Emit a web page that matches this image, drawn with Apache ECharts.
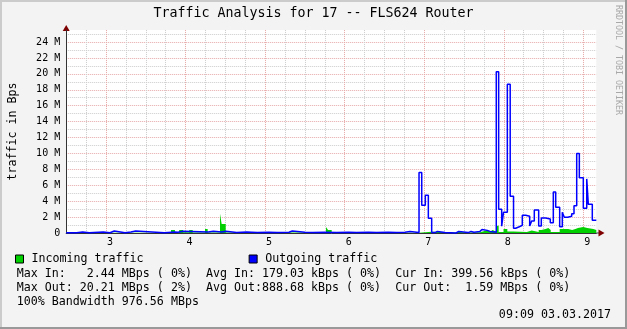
<!DOCTYPE html>
<html><head><meta charset="utf-8">
<script src="https://cdn.jsdelivr.net/npm/echarts@6/dist/echarts.min.js"></script>
<style>html,body{margin:0;padding:0;background:#f3f3f3}#c{width:627px;height:329px}</style>
</head><body><div id="c"></div>
<script>
// time in hours (start of each step), values in M
const outTimes=[2.50,2.63,2.707,2.79,2.966,3.05,3.104,3.239,3.314,3.373,3.733,3.867,3.905,3.968,4.286,4.349,4.454,4.505,4.643,4.769,4.90,5.05,5.15,5.30,5.342,5.50,5.60,5.75,5.90,6.05,6.15,6.30,6.40,6.55,6.65,6.759,6.822,6.935,6.969,7.014,7.052,7.094,7.136,7.165,7.262,7.40,7.434,7.554,7.588,7.626,7.701,7.727,7.793,7.827,7.906,7.936,7.974,7.997,8.045,8.081,8.123,8.150,8.195,8.233,8.276,8.326,8.351,8.384,8.439,8.472,8.527,8.585,8.623,8.653,8.703,8.736,8.761,8.804,8.854,8.883,8.917,8.950,9.000,9.043,9.063,9.113];
const outValues=[0.03,0.12,0.03,0.12,0.03,0.25,0.03,0.12,0.25,0.03,0.12,0.10,0.22,0.12,0.22,0.12,0.22,0.05,0.12,0.05,0.10,0.05,0.10,0.25,0.10,0.05,0.10,0.05,0.10,0.05,0.10,0.05,0.10,0.05,0.10,0.20,0.05,7.6,3.5,4.75,1.85,0.05,0.2,0.05,0.0,0.2,0.05,0.2,0.1,0.2,0.45,0.33,0.2,0.1,20.25,2.97,0.85,2.6,18.7,4.62,0.6,0.78,0.96,2.22,2.1,0.88,1.5,2.9,0.88,1.88,1.76,1.3,5.15,3.23,0.8,2.6,1.97,2.1,2.43,3.43,10.0,6.95,3.1,6.8,3.6,1.6];
const inTimes=[2.50,3.733,3.817,3.867,3.92,3.97,4.047,4.09,4.245,4.278,4.433,4.454,4.505,5.766,5.791,5.837,6.935,7.094,7.40,7.434,7.60,7.701,7.793,7.827,7.86,7.906,7.936,7.997,8.045,8.123,8.29,8.351,8.439,8.472,8.527,8.56,8.59,8.703,8.81,8.86,8.90,8.933,9.000,9.05,9.126];
const inValues=[0.03,0.06,0.38,0.10,0.38,0.10,0.38,0.05,0.50,0.05,2.44,1.13,0.05,0.75,0.38,0.03,0.15,0.05,0.12,0.05,0.10,0.33,0.15,0.38,0.15,0.92,0.13,0.50,0.20,0.12,0.30,0.12,0.38,0.50,0.63,0.38,0.12,0.50,0.38,0.50,0.63,0.75,0.63,0.50,0.38];
const seriesNames=['Incoming traffic','Outgoing traffic'];
const xStart=2.5, xEnd=9.1633;
const yMin=0, yMax=25.5;
const statLines=[
 'Max In:   2.44 MBps ( 0%)  Avg In: 179.03 kBps ( 0%)  Cur In: 399.56 kBps ( 0%)',
 'Max Out: 20.21 MBps ( 2%)  Avg Out:888.68 kBps ( 0%)  Cur Out:  1.59 MBps ( 0%)',
 '100% Bandwidth 976.56 MBps'
];
const stamp='09:09 03.03.2017';
const titleText='Traffic Analysis for 17 -- FLS624 Router';

const FONT='"DejaVu Sans Mono", monospace';
const GL=66.2, GR=30.7, GB=96, GT=233-yMax*7.958;
const PINK='#e6a8a8', GRAY='#cccccc';

function steps(ts,vs){const d=ts.map((t,i)=>[t,vs[i]]);d.push([xEnd,vs[vs.length-1]]);return d;}

const chart=echarts.init(document.getElementById('c'),null,{renderer:'canvas'});
const statGraphics=statLines.map((s,i)=>({type:'text',x:16.7,y:273.5+i*14,style:{text:s,font:'11.65px '+FONT,fill:'#000',align:'left',verticalAlign:'middle'}}));
chart.setOption({
 animation:false,
 backgroundColor:'#f3f3f3',
 title:{text:titleText,left:'center',top:7,padding:0,textStyle:{fontFamily:FONT,fontSize:13.3,fontWeight:'normal',color:'#000'}},
 legend:{data:seriesNames,left:15,top:253,padding:0,icon:'rect',itemWidth:8,itemHeight:8,itemGap:105,selectedMode:false,
   itemStyle:{borderColor:'#000',borderWidth:1},
   textStyle:{fontFamily:FONT,fontSize:11.65,color:'#000',padding:[0,0,0,3]}},
 grid:{left:GL,right:GR,top:GT,bottom:GB,show:true,backgroundColor:'#ffffff',borderWidth:0,containLabel:false,outerBoundsMode:'none'},
 xAxis:{type:'value',min:xStart,max:xEnd,interval:0.25,
   axisLine:{show:true,onZero:false,lineStyle:{color:'#333',width:1}},
   axisTick:{show:false},
   axisLabel:{fontFamily:FONT,fontSize:10,color:'#000',margin:4,padding:[0,0,0,8],
     formatter:v=>Math.abs(v-Math.round(v))<1e-6?String(Math.round(v)):''},
   splitLine:{show:true,showMaxLine:false,lineStyle:{color:[GRAY,GRAY,PINK,GRAY],type:[1,1],width:1}}},
 yAxis:{type:'value',min:yMin,max:yMax,interval:1,
   name:'traffic in Bps',nameLocation:'middle',nameGap:47,
   nameTextStyle:{fontFamily:FONT,fontSize:11.65,color:'#000'},
   axisLine:{show:true,lineStyle:{color:'#333',width:1}},
   axisTick:{show:false},
   axisLabel:{fontFamily:FONT,fontSize:10,color:'#000',margin:6,
     formatter:v=>{const r=Math.round(v);if(Math.abs(v-r)>1e-6||r%2)return '';return r===0?'0':r+' M';}},
   splitLine:{show:true,showMaxLine:false,lineStyle:{color:[PINK,GRAY],type:[1,1],width:1}}},
 series:[
  {name:seriesNames[0],type:'line',step:'end',data:steps(inTimes,inValues),symbol:'none',showSymbol:false,clip:false,
   color:'#00cf00',itemStyle:{color:'#00cf00'},lineStyle:{width:0,color:'#00cf00'},areaStyle:{color:'#00cf00',opacity:1}},
  {name:seriesNames[1],type:'line',step:'end',data:steps(outTimes,outValues),symbol:'none',showSymbol:false,clip:false,
   color:'#0000ff',itemStyle:{color:'#0000ff'},lineStyle:{width:1.5,color:'#0000ff'}}
 ],
 graphic:[
  ...statGraphics,
  {type:'text',x:611,y:315,style:{text:stamp,font:'11.65px '+FONT,fill:'#000',align:'right',verticalAlign:'middle'}},
  {type:'text',x:618.5,y:60,rotation:-Math.PI/2,style:{text:'RRDTOOL / TOBI OETIKER',font:'8.3px '+FONT,fill:'#a8a8a8',align:'center',verticalAlign:'middle'}},
  {type:'line',shape:{x1:GL,y1:GT,x2:GL,y2:30},style:{stroke:'#333',lineWidth:1}},
  {type:'line',shape:{x1:627-GR,y1:233,x2:599,y2:233},style:{stroke:'#333',lineWidth:1}},
  {type:'polygon',shape:{points:[[GL,25],[GL-3.5,31],[GL+3.5,31]]},style:{fill:'#7f0000'}},
  {type:'polygon',shape:{points:[[604.5,233],[598.5,229.5],[598.5,236.5]]},style:{fill:'#7f0000'}},
  {type:'rect',shape:{x:0,y:0,width:627,height:2},style:{fill:'#cbcbcb'}},
  {type:'rect',shape:{x:0,y:0,width:2,height:329},style:{fill:'#cbcbcb'}},
  {type:'rect',shape:{x:0,y:327,width:627,height:2},style:{fill:'#999999'}},
  {type:'rect',shape:{x:625,y:0,width:2,height:329},style:{fill:'#999999'}}
 ]
});
</script></body></html>
